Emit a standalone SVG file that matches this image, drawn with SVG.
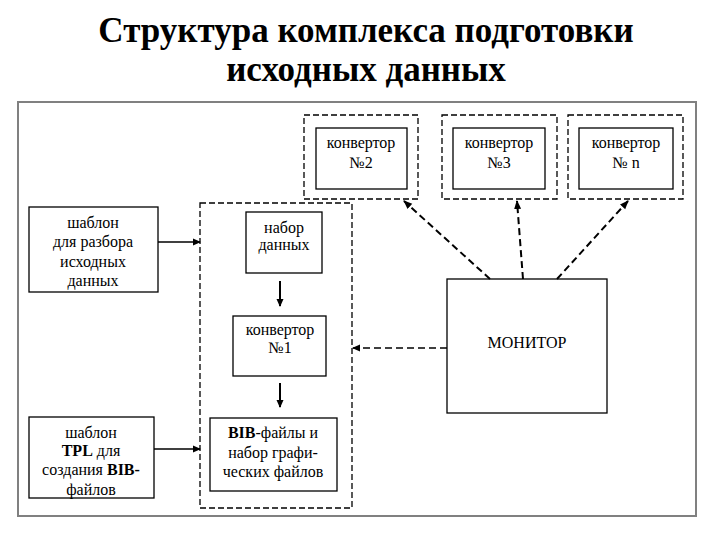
<svg xmlns="http://www.w3.org/2000/svg" width="720" height="540" viewBox="0 0 720 540">
<defs>
<marker id="ah" markerWidth="8" markerHeight="8" refX="7" refY="4" orient="auto" markerUnits="userSpaceOnUse">
<path d="M0,0.5 L8,4 L0,7.5 Z" fill="#000"/>
</marker>
<marker id="ahd" markerWidth="9" markerHeight="9" refX="8" refY="4.5" orient="auto" markerUnits="userSpaceOnUse">
<path d="M0,1 L9,4.5 L0,8 Z" fill="#000"/>
</marker>
</defs>
<rect width="720" height="540" fill="#fff"/>
<g id="title" text-anchor="middle" font-weight="bold" font-size="35">
<text font-family="Liberation Serif" x="366" y="42">Структура комплекса подготовки</text>
<text font-family="Liberation Serif" x="366" y="81">исходных данных</text>
</g>
<rect id="frame" x="18" y="102" width="678" height="414" fill="none" stroke="#808080" stroke-width="2"/>
<g text-anchor="middle" font-size="16" fill="#000">
<g id="conv2">
<rect x="304" y="115" width="114" height="84" fill="none" stroke="#000" stroke-width="1.3" stroke-dasharray="6,3"/>
<rect x="316" y="128" width="91" height="61" fill="#fff" stroke="#000" stroke-width="1.3"/>
<text font-family="Liberation Serif" x="361" y="148">конвертор</text>
<text font-family="Liberation Serif" x="361" y="168">№2</text>
</g>
<g id="conv3">
<rect x="442" y="115" width="115" height="84" fill="none" stroke="#000" stroke-width="1.3" stroke-dasharray="6,3"/>
<rect x="453" y="128" width="92" height="61" fill="#fff" stroke="#000" stroke-width="1.3"/>
<text font-family="Liberation Serif" x="499" y="148">конвертор</text>
<text font-family="Liberation Serif" x="499" y="168">№3</text>
</g>
<g id="convn">
<rect x="568" y="115" width="115" height="84" fill="none" stroke="#000" stroke-width="1.3" stroke-dasharray="6,3"/>
<rect x="579" y="128" width="94" height="61" fill="#fff" stroke="#000" stroke-width="1.3"/>
<text font-family="Liberation Serif" x="626" y="148">конвертор</text>
<text font-family="Liberation Serif" x="626" y="168">№ n</text>
</g>
<g id="tmpl1">
<rect x="29" y="207" width="129" height="85" fill="#fff" stroke="#000" stroke-width="1.3"/>
<text font-family="Liberation Serif" x="93" y="228">шаблон</text>
<text font-family="Liberation Serif" x="93" y="247">для разбора</text>
<text font-family="Liberation Serif" x="93" y="267">исходных</text>
<text font-family="Liberation Serif" x="93" y="286">данных</text>
</g>
<g id="group">
<rect x="200" y="203" width="152" height="305" fill="none" stroke="#000" stroke-width="1.3" stroke-dasharray="6,3"/>
</g>
<g id="dataset">
<rect x="246" y="212" width="76" height="61" fill="#fff" stroke="#000" stroke-width="1.3"/>
<text font-family="Liberation Serif" x="284" y="233">набор</text>
<text font-family="Liberation Serif" x="284" y="250">данных</text>
</g>
<g id="conv1">
<rect x="233" y="316" width="93" height="60" fill="#fff" stroke="#000" stroke-width="1.3"/>
<text font-family="Liberation Serif" x="280" y="335">конвертор</text>
<text font-family="Liberation Serif" x="280" y="353">№1</text>
</g>
<g id="tmpl2">
<rect x="29" y="417" width="125" height="81" fill="#fff" stroke="#000" stroke-width="1.3"/>
<text font-family="Liberation Serif" x="91" y="438">шаблон</text>
<text font-family="Liberation Serif" x="91" y="456"><tspan font-weight="bold">TPL</tspan> для</text>
<text font-family="Liberation Serif" x="91" y="475">создания <tspan font-weight="bold">BIB-</tspan></text>
<text font-family="Liberation Serif" x="91" y="495">файлов</text>
</g>
<g id="bib">
<rect x="210" y="418" width="127" height="73" fill="#fff" stroke="#000" stroke-width="1.3"/>
<text font-family="Liberation Serif" x="273" y="438"><tspan font-weight="bold">BIB</tspan>-файлы и</text>
<text font-family="Liberation Serif" x="273" y="458">набор графи-</text>
<text font-family="Liberation Serif" x="273" y="477">ческих файлов</text>
</g>
<g id="monitor">
<rect x="447" y="279" width="160" height="134" fill="#fff" stroke="#000" stroke-width="1.3"/>
<text font-family="Liberation Serif" x="527" y="348">МОНИТОР</text>
</g>
</g>
<g id="connectors" fill="none" stroke="#000">
<line x1="158" y1="242" x2="200" y2="242" stroke-width="1.5" marker-end="url(#ah)"/>
<line x1="154" y1="449" x2="200" y2="449" stroke-width="1.5" marker-end="url(#ah)"/>
<line x1="280" y1="281" x2="280" y2="306" stroke-width="2" marker-end="url(#ah)"/>
<line x1="280" y1="383" x2="280" y2="407" stroke-width="2" marker-end="url(#ah)"/>
<line x1="447" y1="348" x2="353" y2="348" stroke-width="1.3" stroke-dasharray="7,4" marker-end="url(#ah)"/>
<line x1="490" y1="279" x2="404" y2="201" stroke-width="2" stroke-dasharray="7,4" marker-end="url(#ahd)"/>
<line x1="523" y1="279" x2="517" y2="201" stroke-width="2" stroke-dasharray="7,4" marker-end="url(#ahd)"/>
<line x1="557" y1="279" x2="628" y2="201" stroke-width="2" stroke-dasharray="7,4" marker-end="url(#ahd)"/>
</g>
</svg>
